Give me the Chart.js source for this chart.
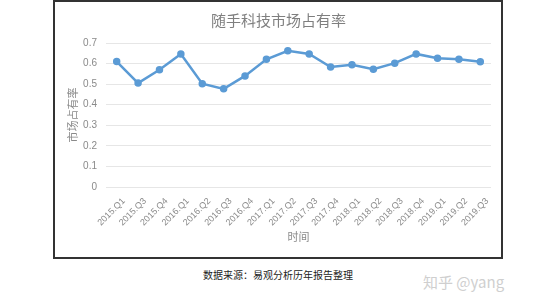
<!DOCTYPE html>
<html>
<head>
<meta charset="utf-8">
<script src="https://cdn.jsdelivr.net/npm/chart.js@4/dist/chart.umd.min.js"></script>
<style>
  body { margin: 0; background: #fff; width: 554px; height: 307px; position: relative; overflow: hidden; }
  #box { position: absolute; left: 53px; top: 0px; width: 450px; height: 259px; box-sizing: border-box; border: 2px solid #333; }
  #wrap { position: absolute; left: 0; top: 0; width: 446px; height: 255px; }
  #source { position: absolute; left: 0; width: 556px; top: 267px; text-align: center; font: 10px "Noto Sans CJK SC", sans-serif; color: #222; }
  #mark { position: absolute; left: 423px; top: 271px; font: 15px "Noto Sans CJK SC", sans-serif; color: #cfcfcf; }
</style>
</head>
<body>
<div id="box"><div id="wrap"><canvas id="my-chart"></canvas></div></div>
<div id="source">数据来源：易观分析历年报告整理</div>
<div id="mark">知乎 @yang</div>
<script>
const chartTitle = "随手科技市场占有率";
const quarters = [
  "2015.Q1", "2015.Q3", "2015.Q4", "2016.Q1", "2016.Q2", "2016.Q3",
  "2016.Q4", "2017.Q1", "2017.Q2", "2017.Q3", "2017.Q4", "2018.Q1",
  "2018.Q2", "2018.Q3", "2018.Q4", "2019.Q1", "2019.Q2", "2019.Q3"
];
const marketShare = [
  0.61, 0.505, 0.57, 0.647, 0.502, 0.477,
  0.54, 0.621, 0.662, 0.647, 0.583, 0.594,
  0.573, 0.602, 0.647, 0.626, 0.621, 0.609
];
const yTicks = [0, 0.1, 0.2, 0.3, 0.4, 0.5, 0.6, 0.7];

const blue = "#5b9bd5";
const gray = "#8a8a8a";

function printTheChart() {
  const ctx = document.getElementById("my-chart").getContext("2d");
  new Chart(ctx, {
    type: "line",
    data: {
      labels: quarters,
      datasets: [
        {
          label: "市场占有率",
          data: marketShare,
          borderColor: blue,
          backgroundColor: blue,
          borderWidth: 2.5,
          pointRadius: 2.5,
          tension: 0,
        },
      ],
    },
    options: {
      responsive: true,
      maintainAspectRatio: false,
      animation: false,
      layout: { padding: { left: 11, right: 10, top: 0, bottom: 12 } },
      plugins: {
        legend: { display: false },
        tooltip: { enabled: false },
        title: {
          display: true,
          text: chartTitle,
          color: "#7f7f7f",
          font: { family: "Noto Sans CJK SC", size: 15, weight: "normal" },
          padding: { top: 9, bottom: 14 },
        },
      },
      scales: {
        x: {
          offset: true,
          grid: { display: false },
          border: { display: false },
          ticks: {
            color: gray,
            font: { family: "Liberation Sans", size: 9 },
            minRotation: 45,
            maxRotation: 45,
            autoSkip: false,
            padding: 1,
            labelOffset: 7,
          },
          title: {
            display: true,
            text: "时间",
            color: gray,
            font: { family: "Noto Sans CJK SC", size: 11 },
            padding: { top: 2, bottom: 2 },
          },
          afterFit: (scale) => { scale.height = 58; },
        },
        y: {
          min: 0,
          max: 0.7,
          border: { display: false },
          grid: { color: "#e6e6e6", drawTicks: false, lineWidth: 1 },
          afterBuildTicks: (scale) => { scale.ticks = yTicks.map((v) => ({ value: v })); },
          ticks: {
            color: gray,
            font: { family: "Liberation Sans", size: 10 },
            padding: 9,
          },
          title: {
            display: true,
            text: "市场占有率",
            color: gray,
            font: { family: "Noto Sans CJK SC", size: 11 },
            padding: { top: 0, bottom: 2 },
          },
          afterFit: (scale) => { scale.width = 40; },
        },
      },
    },
  });
}

printTheChart();
</script>
</body>
</html>
